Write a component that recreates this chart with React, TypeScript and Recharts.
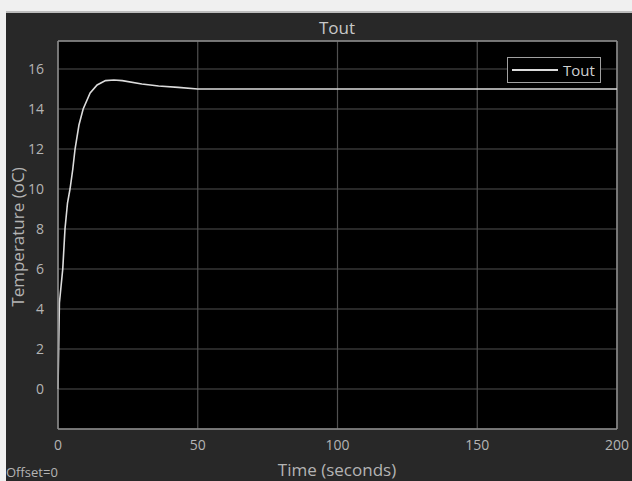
import React from 'react';
import { LineChart, Line, XAxis, YAxis, CartesianGrid, ReferenceLine } from 'recharts';

const timeSec = [0, 0.5, 1.7, 2.5, 3.4, 4.3, 5.3, 6.1, 7.5, 9, 11.5, 14, 17, 20, 23, 30, 36, 43, 50, 100, 150, 200];
const toutC = [0, 4.3, 6, 8, 9.3, 10, 11, 12, 13.2, 14, 14.8, 15.2, 15.42, 15.45, 15.42, 15.25, 15.15, 15.08, 15.0, 15.0, 15.0, 15.0];
const xTicks = [0, 50, 100, 150, 200];
const yTicks = [0, 2, 4, 6, 8, 10, 12, 14, 16];

const data = timeSec.map((t, i) => ({ t, tout: toutC[i] }));

const font = '"Open Sans", "DejaVu Sans", sans-serif';
const textGray = '#b4b4b4';

export default function App() {
  return (
    <div style={{ position: 'fixed', left: 0, top: 0, width: 632, height: 481, background: '#f0f0f0', overflow: 'hidden' }}>
      <div style={{ position: 'absolute', left: 6, top: 11, width: 626, height: 470, background: '#282828', borderTop: '2px solid #bcbcbc', boxSizing: 'border-box', overflow: 'hidden' }}>
        <div style={{ position: 'absolute', left: 331, top: 3, transform: 'translateX(-50%)', color: '#c8c8c8', fontSize: 17, fontFamily: font }}>
          Tout
        </div>
        <LineChart width={626} height={468} data={data} margin={{ top: 28, right: 15, left: 0, bottom: 22 }}>
          <CartesianGrid fill="#000" stroke="#505050" strokeWidth={1.2} />
          <XAxis
            dataKey="t"
            type="number"
            domain={[0, 200]}
            ticks={xTicks}
            height={30}
            stroke="#8c8c8c"
            strokeWidth={1.5}
            tickLine={false}
            tick={{ fill: textGray, fontSize: 14, fontFamily: font }}
            tickMargin={5}
          />
          <YAxis
            type="number"
            domain={[-2, 17.4]}
            ticks={yTicks}
            width={52}
            stroke="#8c8c8c"
            strokeWidth={1.5}
            tickLine={false}
            tick={{ fill: textGray, fontSize: 14, fontFamily: font }}
            tickMargin={8}
            allowDataOverflow
          />
          <ReferenceLine x={200} stroke="#8c8c8c" strokeWidth={1.5} />
          <ReferenceLine y={17.4} stroke="#8c8c8c" strokeWidth={1.5} />
          <Line
            type="linear"
            dataKey="tout"
            name="Tout"
            stroke="#dcdcdc"
            strokeWidth={1.6}
            dot={false}
            isAnimationActive={false}
          />
        </LineChart>
        <div style={{ position: 'absolute', left: 501, top: 44, border: '1px solid #a0a0a0', background: '#000', width: 94, height: 26, display: 'flex', alignItems: 'center', boxSizing: 'border-box' }}>
          <div style={{ width: 46, height: 2, background: '#dcdcdc', marginLeft: 4, marginRight: 5 }} />
          <span style={{ color: '#d0d0d0', fontSize: 15, fontFamily: font }}>Tout</span>
        </div>
        <div style={{ position: 'absolute', left: 331, top: 446, transform: 'translateX(-50%)', color: textGray, fontSize: 17, fontFamily: font, whiteSpace: 'nowrap', lineHeight: '22px' }}>
          Time (seconds)
        </div>
        <div style={{ position: 'absolute', left: 11, top: 224, transform: 'translate(-50%, -50%) rotate(-90deg)', color: textGray, fontSize: 17, fontFamily: font, whiteSpace: 'nowrap' }}>
          Temperature (oC)
        </div>
        <div style={{ position: 'absolute', left: 0, top: 450, color: textGray, fontSize: 13, fontFamily: font, whiteSpace: 'nowrap', lineHeight: '18px' }}>
          Offset=0
        </div>
      </div>
    </div>
  );
}
